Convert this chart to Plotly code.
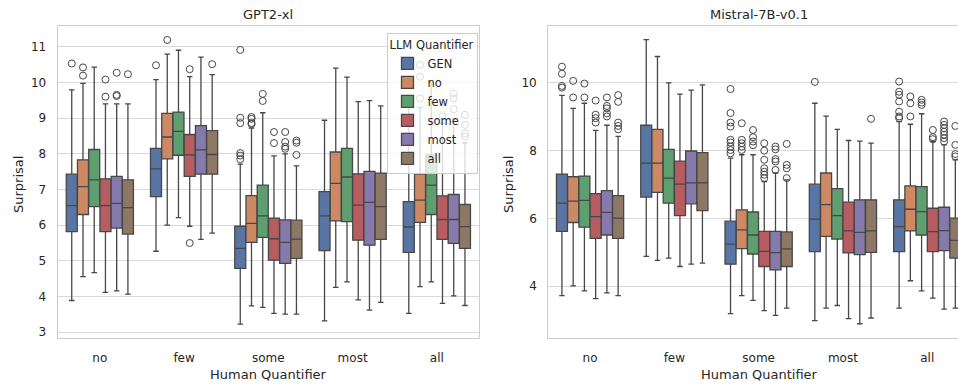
import plotly.graph_objects as go

CATEGORIES = ["no", "few", "some", "most", "all"]
HUES = ["GEN", "no", "few", "some", "most", "all"]
COLORS = ["#5975A4", "#CC8963", "#5F9E6E", "#B55D60", "#857AAB", "#8D7866"]
LINE = "#474747"

# ---------------- GPT2-xl (per hue, per category) ----------------
GPT_LOW = [[3.89, 5.27, 3.23, 3.32, 3.53], [4.56, 6.00, 3.74, 4.26, 4.28], [4.67, 6.21, 3.70, 4.41, 4.41],
           [4.12, 5.97, 3.53, 3.91, 3.81], [4.16, 5.60, 3.51, 3.62, 4.02], [4.07, 5.78, 3.51, 3.84, 3.75]]
GPT_Q1 = [[5.82, 6.80, 4.79, 5.29, 5.24], [6.30, 7.86, 5.52, 6.12, 6.08], [6.52, 7.96, 5.66, 6.10, 6.30],
          [5.82, 7.37, 5.02, 5.58, 5.60], [5.92, 7.43, 4.93, 5.44, 5.49], [5.75, 7.43, 5.07, 5.60, 5.35]]
GPT_MED = [[6.55, 7.58, 5.35, 6.26, 5.95], [7.08, 8.47, 6.05, 7.17, 6.70], [7.27, 8.63, 6.26, 7.35, 7.12],
           [6.55, 7.97, 5.62, 6.56, 6.16], [6.61, 8.11, 5.52, 6.64, 6.16], [6.49, 7.98, 5.61, 6.52, 5.96]]
GPT_Q3 = [[7.43, 8.15, 5.97, 6.94, 6.66], [7.83, 9.13, 6.83, 8.05, 7.44], [8.12, 9.17, 7.12, 8.15, 7.97],
          [7.30, 8.54, 6.20, 7.44, 6.82], [7.37, 8.79, 6.15, 7.51, 6.86], [7.27, 8.65, 6.14, 7.46, 6.58]]
GPT_HIGH = [[9.79, 10.08, 7.71, 8.94, 9.32], [9.97, 10.79, 8.72, 10.40, 9.30], [10.43, 10.90, 9.15, 10.15, 10.0],
            [9.40, 10.16, 7.94, 9.46, 8.85], [9.40, 10.71, 8.00, 9.49, 8.97], [9.40, 10.22, 7.66, 9.34, 8.31]]
GPT_OUT = [
    [[10.53], [10.48], [10.91, 9.01, 8.86, 8.02, 7.95, 7.85], [], [9.46]],
    [[10.42, 10.19], [11.19], [9.03, 8.98, 8.86, 8.83], [], [10.49, 10.16, 9.55]],
    [[], [], [9.68, 9.48], [], []],
    [[10.08, 9.60], [10.37, 5.50], [8.61, 8.30], [], [9.05]],
    [[10.27, 9.65, 9.62], [], [8.61, 8.33, 8.20, 8.14], [], [9.69, 9.55, 9.25]],
    [[10.23], [10.51], [8.37, 8.31, 7.97], [], [9.09, 8.81, 8.57, 8.48]],
]

# ---------------- Mistral-7B-v0.1 ----------------
MIS_LOW = [[3.72, 4.88, 3.19, 2.98, 3.35], [4.01, 4.76, 3.72, 3.35, 4.16], [3.86, 4.83, 3.58, 3.43, 3.86],
           [3.63, 4.58, 3.28, 3.04, 3.65], [3.80, 4.65, 3.14, 2.89, 3.32], [3.72, 4.68, 3.35, 3.06, 3.35]]
MIS_Q1 = [[5.62, 6.63, 4.65, 5.02, 5.02], [5.88, 6.77, 5.11, 5.47, 5.63], [5.74, 6.45, 4.95, 5.39, 5.51],
          [5.41, 6.08, 4.58, 4.98, 5.02], [5.51, 6.43, 4.48, 4.93, 5.05], [5.41, 6.23, 4.58, 5.00, 4.83]]
MIS_MED = [[6.45, 7.63, 5.24, 5.98, 5.76], [6.51, 7.63, 5.66, 6.41, 6.27], [6.53, 7.19, 5.51, 6.08, 6.20],
           [6.05, 7.01, 5.03, 5.63, 5.61], [6.18, 7.05, 4.99, 5.59, 5.64], [6.01, 7.05, 5.10, 5.63, 5.35]]
MIS_Q3 = [[7.31, 8.75, 5.92, 7.01, 6.55], [7.23, 8.63, 6.25, 7.34, 6.96], [7.25, 8.04, 6.19, 6.88, 6.94],
          [6.73, 7.69, 5.62, 6.48, 6.30], [6.82, 7.99, 5.62, 6.55, 6.33], [6.67, 7.94, 5.60, 6.55, 6.01]]
MIS_HIGH = [[9.63, 11.28, 7.78, 9.40, 8.86], [9.25, 10.78, 7.88, 9.02, 8.78], [9.40, 10.00, 7.88, 8.63, 9.09],
            [8.60, 9.67, 7.09, 8.30, 8.27], [8.75, 9.79, 7.34, 8.28, 8.17], [8.42, 9.94, 7.14, 8.22, 7.73]]
MIS_OUT = [
    [[10.48, 10.27, 9.91, 9.86], [], [9.82, 9.11, 8.83, 8.71, 8.32, 8.24, 8.12, 8.02, 7.92], [10.03],
     [10.04, 9.74, 9.65, 9.45, 9.15, 9.01, 8.96]],
    [[10.06, 9.57], [], [8.81, 8.32, 8.22, 8.12, 8.02], [], [9.60, 9.40, 9.01]],
    [[9.98, 9.57], [], [8.61, 8.40, 8.27, 8.16], [], [9.50, 9.42, 9.35]],
    [[9.48, 9.06, 8.96, 8.83], [], [8.22, 8.00, 7.73, 7.48, 7.38, 7.29, 7.19], [], [8.61, 8.40, 8.34]],
    [[9.57, 9.32, 9.25, 9.10, 9.01], [], [8.12, 8.04, 7.75, 7.68, 7.43], [], [8.86, 8.76, 8.66, 8.56, 8.47, 8.37, 8.27]],
    [[9.64, 9.44, 8.83, 8.73, 8.63], [], [8.20, 7.58, 7.48, 7.19], [8.94], [8.73, 8.17, 7.90, 7.83]],
]

W, H = 958, 385
FONT = "DejaVu Sans"
TXT = "#262626"
BOXW = 0.8 / len(HUES)

fig = go.Figure()


def add_panel(low, q1, med, q3, high, outs, xa, ya, show):
    for j, hue in enumerate(HUES):
        pos = [i + (j - 2.5) * BOXW for i in range(len(CATEGORIES))]
        fig.add_trace(go.Box(
            x=pos, q1=q1[j], median=med[j], q3=q3[j], lowerfence=low[j], upperfence=high[j],
            width=BOXW * 0.98, whiskerwidth=0.5, fillcolor=COLORS[j],
            line=dict(color=LINE, width=1.3), boxpoints=False, name=hue,
            legendgroup=hue, showlegend=show, xaxis=xa, yaxis=ya, hoverinfo="skip"))
        ox, oy = [], []
        for i in range(len(CATEGORIES)):
            for v in outs[j][i]:
                ox.append(pos[i])
                oy.append(v)
        fig.add_trace(go.Scatter(
            x=ox, y=oy, mode="markers", showlegend=False, legendgroup=hue,
            marker=dict(symbol="circle-open", size=7, color=LINE, line=dict(width=1, color=LINE)),
            xaxis=xa, yaxis=ya, hoverinfo="skip"))


add_panel(GPT_LOW, GPT_Q1, GPT_MED, GPT_Q3, GPT_HIGH, GPT_OUT, "x", "y", True)
add_panel(MIS_LOW, MIS_Q1, MIS_MED, MIS_Q3, MIS_HIGH, MIS_OUT, "x2", "y2", False)

ytop = 1 - 26 / H
ybot = 1 - 338 / H
common_x = dict(tickmode="array", tickvals=list(range(5)), ticktext=CATEGORIES, showgrid=False,
                zeroline=False, showline=True, linecolor="#cccccc", linewidth=1.25, mirror=True,
                ticks="", ticklabelstandoff=8, tickfont=dict(family=FONT, size=12, color=TXT))
common_y = dict(showgrid=True, gridcolor="#d9d9d9", gridwidth=1, zeroline=False, showline=True,
                linecolor="#cccccc", linewidth=1.25, ticks="", ticklabelstandoff=8,
                tickfont=dict(family=FONT, size=12, color=TXT))

fig.update_layout(
    width=W, height=H, margin=dict(l=0, r=0, t=0, b=0),
    paper_bgcolor="white", plot_bgcolor="white", boxmode="overlay",
    font=dict(family=FONT, color=TXT),
    xaxis=dict(domain=[57.7 / W, 479 / W], range=[-0.5, 4.5], anchor="y", **common_x),
    yaxis=dict(domain=[ybot, ytop], range=[2.84, 11.58], anchor="x", mirror=True,
               tickvals=list(range(3, 12)), **common_y),
    xaxis2=dict(domain=[548.3 / W, 1.0], range=[-0.495, 4.365], anchor="y2", **common_x),
    yaxis2=dict(domain=[ybot, ytop], range=[2.47, 11.68], anchor="x2", mirror=False,
                tickvals=[4, 6, 8, 10], **common_y),
    legend=dict(title=dict(text="LLM Quantifier", font=dict(family=FONT, size=11.5, color=TXT)),
                font=dict(family=FONT, size=11.5, color=TXT), x=477.5 / W, xanchor="right",
                y=1 - 33 / H, yanchor="top", bgcolor="rgba(255,255,255,0.8)",
                bordercolor="#cccccc", borderwidth=1, tracegroupgap=0, entrywidth=62),
    showlegend=True,
)

ann = [
    ("GPT2-xl", 268, 14, 0, 13),
    ("Mistral-7B-v0.1", 759, 14, 0, 13),
    ("Human Quantifier", 268, 374, 0, 13),
    ("Human Quantifier", 759, 374, 0, 13),
    ("Surprisal", 18, 185, -90, 13),
    ("Surprisal", 508, 185, -90, 13),
]
for text, x, y, ang, sz in ann:
    fig.add_annotation(text=text, x=x / W, y=1 - y / H, xref="paper", yref="paper",
                       showarrow=False, textangle=ang, xanchor="center", yanchor="middle",
                       font=dict(family=FONT, size=sz, color=TXT))

fig.write_html("out.html", config={"displayModeBar": False},
               post_script="document.body.style.margin='0';document.body.style.overflow='hidden';")
